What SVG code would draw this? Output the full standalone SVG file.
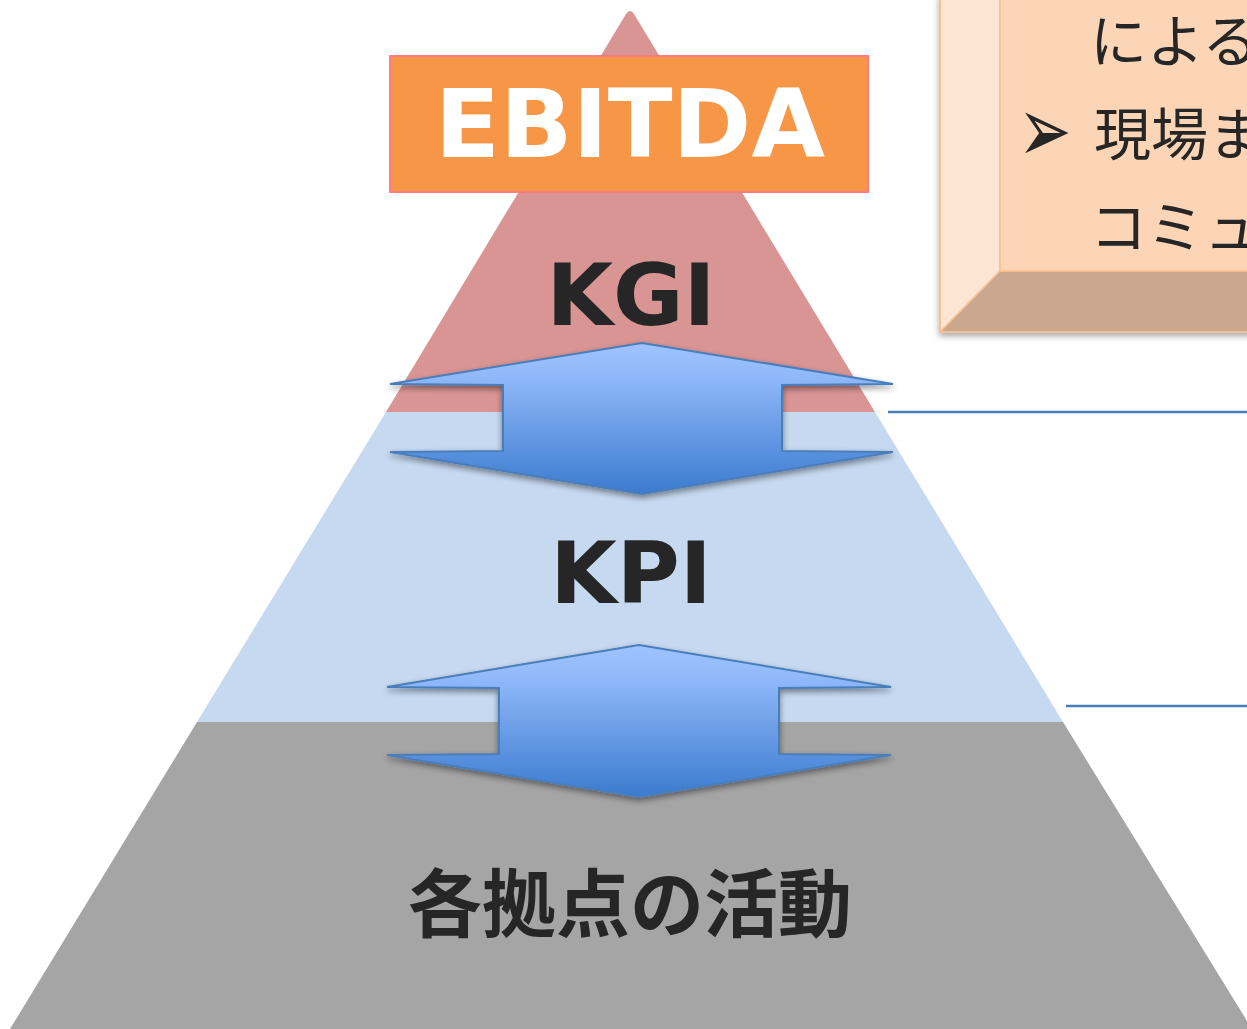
<svg xmlns="http://www.w3.org/2000/svg" width="1247" height="1029" viewBox="0 0 1247 1029">
<style>
.lbl{font-family:"DejaVu Sans","Noto Sans",sans-serif;font-weight:bold;fill:#262626;text-anchor:middle}
.jp{font-family:"Noto Sans CJK JP",sans-serif;fill:#262626;font-size:57px}
.arrow{fill:url(#ag);stroke:#4A7EBB;stroke-width:2;filter:url(#sh)}
.conn{stroke:#4A7EBB;stroke-width:2.5;fill:none}
</style>
<defs>
<linearGradient id="ag" x1="0" y1="0" x2="0" y2="1">
<stop offset="0" stop-color="#9DC3FF"/>
<stop offset="0.2" stop-color="#92BAFA"/>
<stop offset="1" stop-color="#3B7BCF"/>
</linearGradient>
<filter id="sh" x="-10%" y="-10%" width="120%" height="130%">
<feGaussianBlur in="SourceAlpha" stdDeviation="3"/>
<feOffset dx="0" dy="3" result="b"/>
<feComponentTransfer><feFuncA type="linear" slope="0.45"/></feComponentTransfer>
<feMerge><feMergeNode/><feMergeNode in="SourceGraphic"/></feMerge>
</filter>
<filter id="sh2" x="-5%" y="-5%" width="115%" height="115%">
<feGaussianBlur in="SourceAlpha" stdDeviation="3"/>
<feOffset dx="0" dy="3"/>
<feComponentTransfer><feFuncA type="linear" slope="0.35"/></feComponentTransfer>
<feMerge><feMergeNode/><feMergeNode in="SourceGraphic"/></feMerge>
</filter>
</defs>
<rect width="1247" height="1029" fill="#FFFFFF"/>

<g id="layer-gray">
<polygon points="197,722 1063,722 1252,1029 10,1029" fill="#A5A5A5"/>
<text class="lbl" x="630" y="931" style="font-family:'Noto Sans CJK JP',sans-serif;font-size:74px;font-weight:bold">各拠点の活動</text>
</g>
<g id="layer-blue">
<polygon points="386,412 875,412 1063,722 197,722" fill="#C6D9F0"/>
<text class="lbl" x="631" y="603" font-size="86">KPI</text>
</g>
<g id="layer-pink">
<path d="M386,412 L626,14 Q630,8 634,14 L875,412 Z" fill="#D99594"/>
<text class="lbl" x="631" y="325" font-size="86">KGI</text>
</g>
<g id="ebitda">
<rect x="390" y="56" width="478" height="136" fill="#F79646" stroke="#FF7C80" stroke-width="2"/>
<text class="lbl" x="630" y="157" font-size="95" style="fill:#FFFFFF">EBITDA</text>
</g>

<g id="connectors">
<line class="conn" x1="888" y1="412" x2="1247" y2="412"/>
<line class="conn" x1="1066" y1="706" x2="1247" y2="706"/>
<polygon class="arrow" points="642,343 893,384 782,385 782,451 893,452 642,494 390,452 503,451 503,385 390,384"/>
<polygon class="arrow" points="639,645 891,687 779,688 779,754 891,755 639,797 387,755 499,754 499,688 387,687"/>
</g>

<g id="note">
<g filter="url(#sh2)">
<polygon points="940,-5 1260,-5 1260,332 940,332" fill="#FBD5B5"/>
<polygon points="940,-5 1000,-5 1000,271 940,332" fill="#FDE5D3" stroke="#FAC090" stroke-width="1.5"/>
<polygon points="940,332 1000,271 1260,271 1260,332" fill="#C9A88F" stroke="#FAC090" stroke-width="1.5"/>
<polygon points="1000,-5 1260,-5 1260,271 1000,271" fill="#FBD5B5" stroke="#FAC090" stroke-width="1.5"/>
<polygon points="940,-5 1260,-5 1260,332 940,332" fill="none" stroke="#FAC090" stroke-width="2"/>
</g>
<text class="jp" x="1090" y="62">による</text>
<text x="1018" y="153" transform="translate(0,132) scale(1,1.45) translate(0,-132)" style="font-family:'DejaVu Sans',sans-serif;font-size:64px;fill:#262626">➢</text>
<text class="jp" x="1094" y="155">現場ま</text>
<text class="jp" x="1090" y="248">コミュ</text>
</g>
</svg>
